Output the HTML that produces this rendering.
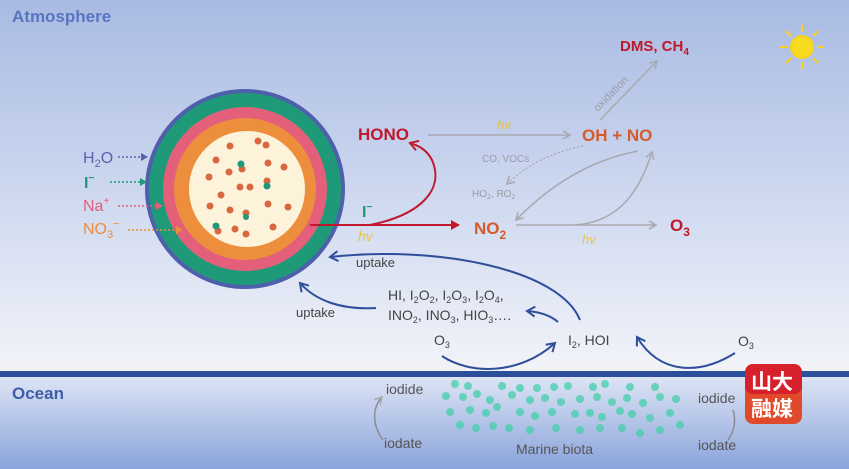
<!DOCTYPE html>
<html><head><meta charset="utf-8"><style>
html,body{margin:0;padding:0;width:849px;height:469px;overflow:hidden}
svg{display:block;font-family:"Liberation Sans",Arial,sans-serif}
</style></head><body>
<svg width="849" height="469" viewBox="0 0 849 469">
<defs>
<linearGradient id="atm" x1="0" y1="0" x2="0" y2="1">
<stop offset="0" stop-color="#a9bbe3"/><stop offset="0.5" stop-color="#ccd7ef"/><stop offset="1" stop-color="#f3f4f9"/></linearGradient>
<linearGradient id="oc" x1="0" y1="0" x2="0" y2="1">
<stop offset="0" stop-color="#dfe6f5"/><stop offset="1" stop-color="#8aa3db"/></linearGradient>
<marker id="ag" markerWidth="10" markerHeight="10" refX="8" refY="5" orient="auto" markerUnits="userSpaceOnUse"><path d="M1,1 L8,5 L1,9" fill="none" stroke="#a9aab0" stroke-width="1.6"/></marker>
<marker id="ab" markerWidth="12" markerHeight="12" refX="9" refY="6" orient="auto" markerUnits="userSpaceOnUse"><path d="M1,1 L9,6 L1,11" fill="none" stroke="#2f4f9a" stroke-width="2"/></marker>
<marker id="ar" markerWidth="10" markerHeight="10" refX="8" refY="5" orient="auto" markerUnits="userSpaceOnUse"><path d="M0,0 L9,5 L0,10 Z" fill="#c0182c"/></marker>
<marker id="ar2" markerWidth="12" markerHeight="12" refX="9" refY="6" orient="auto" markerUnits="userSpaceOnUse"><path d="M1,1 L9,6 L1,11" fill="none" stroke="#c0182c" stroke-width="2"/></marker>
</defs>
<rect width="849" height="374" fill="url(#atm)"/>
<rect y="374" width="849" height="95" fill="url(#oc)"/>
<rect y="371" width="849" height="6" fill="#2c4f9c"/>
<text x="12" y="22" font-size="17" font-weight="bold" fill="#5a74c0">Atmosphere</text>
<text x="12" y="399" font-size="17" font-weight="bold" fill="#3f5ea8">Ocean</text>
<!-- sun -->
<g transform="translate(802,47)" stroke="#f6d31c" stroke-width="2">
<circle r="11" fill="#f8da1e"/>
<path d="M0,-15V-22M0,15V22M-15,0H-22M15,0H22M11,-11L16,-16M-11,11L-16,16M11,11L16,16M-11,-11L-16,-16"/></g>
<!-- sphere -->
<circle cx="245" cy="189" r="100" fill="#4e5fab"/>
<circle cx="245" cy="189" r="96" fill="#1f9a78"/>
<circle cx="245" cy="189" r="82" fill="#e4607a"/>
<circle cx="245" cy="189" r="71" fill="#ec8e3c"/>
<circle cx="247" cy="189" r="58" fill="#fdf2da"/>
<g fill="#d9673f">
<circle cx="230" cy="146" r="3.5"/><circle cx="258" cy="141" r="3.5"/><circle cx="266" cy="145" r="3.5"/><circle cx="216" cy="160" r="3.5"/><circle cx="268" cy="163" r="3.5"/><circle cx="284" cy="167" r="3.5"/><circle cx="229" cy="172" r="3.5"/><circle cx="242" cy="169" r="3.5"/><circle cx="209" cy="177" r="3.5"/><circle cx="240" cy="187" r="3.5"/><circle cx="250" cy="187" r="3.5"/><circle cx="267" cy="181" r="3.5"/><circle cx="221" cy="195" r="3.5"/><circle cx="210" cy="206" r="3.5"/><circle cx="230" cy="210" r="3.5"/><circle cx="246" cy="213" r="3.5"/><circle cx="268" cy="204" r="3.5"/><circle cx="288" cy="207" r="3.5"/><circle cx="218" cy="231" r="3.5"/><circle cx="235" cy="229" r="3.5"/><circle cx="246" cy="234" r="3.5"/><circle cx="273" cy="227" r="3.5"/>
</g>
<g fill="#1f9a78"><circle cx="241" cy="164" r="3.5"/><circle cx="267" cy="186" r="3.5"/><circle cx="216" cy="226" r="3.5"/><circle cx="246" cy="217" r="3"/></g>
<!-- ion labels -->
<text x="83" y="163" font-size="16" fill="#5a62b0">H<tspan font-size="11" dy="4">2</tspan><tspan dy="-4">O</tspan></text>
<line x1="118" y1="157" x2="143" y2="157" stroke="#5a62b0" stroke-width="1.5" stroke-dasharray="2,2"/><path d="M141,153 L148,157 L141,161Z" fill="#5a62b0"/>
<text x="84" y="188" font-size="16" font-weight="bold" fill="#1f9a78">I<tspan font-size="10" dy="-7">−</tspan></text>
<line x1="110" y1="182" x2="142" y2="182" stroke="#1f9a78" stroke-width="1.5" stroke-dasharray="2,2"/><path d="M140,178 L147,182 L140,186Z" fill="#1f9a78"/>
<text x="83" y="211" font-size="16" fill="#e4607a">Na<tspan font-size="10" dy="-7">+</tspan></text>
<line x1="118" y1="206" x2="158" y2="206" stroke="#e4607a" stroke-width="1.5" stroke-dasharray="2,2"/><path d="M156,202 L163,206 L156,210Z" fill="#e4607a"/>
<text x="83" y="234" font-size="16" fill="#ec8e3c">NO<tspan font-size="11" dy="4">3</tspan><tspan font-size="11" dy="-11">−</tspan></text>
<line x1="128" y1="230" x2="178" y2="230" stroke="#ec8e3c" stroke-width="1.5" stroke-dasharray="2,2"/><path d="M176,226 L183,230 L176,234Z" fill="#ec8e3c"/>
<!-- red arrows -->
<line x1="310" y1="225" x2="459" y2="225" stroke="#c0182c" stroke-width="2" marker-end="url(#ar)"/>
<path d="M370,225 C420,215 445,190 432,160 C426,148 416,145 410,143" fill="none" stroke="#c0182c" stroke-width="2" marker-end="url(#ar2)"/>
<text x="362" y="217" font-size="16" font-weight="bold" fill="#1f9a78">I<tspan font-size="10" dy="-7">−</tspan></text>
<text x="358" y="241" font-size="14" font-style="italic" fill="#e8c440">hv</text>
<!-- species -->
<text x="358" y="140" font-size="17" font-weight="bold" fill="#c0182c">HONO</text>
<text x="582" y="141" font-size="17" font-weight="bold" fill="#d65a2a">OH + NO</text>
<text x="474" y="234" font-size="17" font-weight="bold" fill="#d65a2a">NO<tspan font-size="12" dy="5">2</tspan></text>
<text x="670" y="231" font-size="17" font-weight="bold" fill="#c0182c">O<tspan font-size="12" dy="5">3</tspan></text>
<text x="620" y="51" font-size="15" font-weight="bold" fill="#c0182c">DMS, CH<tspan font-size="10" dy="4">4</tspan></text>
<!-- grey arrows -->
<line x1="428" y1="135" x2="570" y2="135" stroke="#a9aab0" stroke-width="1.6" marker-end="url(#ag)"/>
<text x="497" y="129" font-size="13" font-style="italic" fill="#e8c440">hv</text>
<line x1="600" y1="120" x2="657" y2="61" stroke="#a9aab0" stroke-width="1.6" marker-end="url(#ag)"/>
<text transform="translate(598,112) rotate(-46)" font-size="11" fill="#9a9ca4">oxidation</text>
<path d="M583,146 C555,152 530,162 507,184" fill="none" stroke="#a9aab0" stroke-width="1.3" stroke-dasharray="2,2" marker-end="url(#ag)"/>
<text x="482" y="162" font-size="10" fill="#9a9ca4">CO, VOCs</text>
<text x="472" y="197" font-size="10" fill="#9a9ca4">HO<tspan font-size="7" dy="2">2</tspan><tspan dy="-2">, RO</tspan><tspan font-size="7" dy="2">2</tspan></text>
<path d="M638,151 C590,160 550,185 516,220" fill="none" stroke="#a9aab0" stroke-width="1.6" marker-end="url(#ag)"/>
<path d="M575,225 C620,222 640,190 652,152" fill="none" stroke="#a9aab0" stroke-width="1.6" marker-end="url(#ag)"/>
<line x1="516" y1="225" x2="656" y2="225" stroke="#a9aab0" stroke-width="1.6" marker-end="url(#ag)"/>
<text x="582" y="244" font-size="13" font-style="italic" fill="#e8c440">hv</text>
<!-- uptake arrows -->
<path d="M580,320 C560,270 440,245 330,257" fill="none" stroke="#2f4f9a" stroke-width="2" marker-end="url(#ab)"/>
<text x="356" y="267" font-size="13" fill="#444">uptake</text>
<path d="M376,308 C340,310 315,300 300,283" fill="none" stroke="#2f4f9a" stroke-width="2" marker-end="url(#ab)"/>
<text x="296" y="317" font-size="13" fill="#444">uptake</text>
<text x="388" y="300" font-size="14" fill="#444">HI, I<tspan font-size="9" dy="3">2</tspan><tspan dy="-3">O</tspan><tspan font-size="9" dy="3">2</tspan><tspan dy="-3">, I</tspan><tspan font-size="9" dy="3">2</tspan><tspan dy="-3">O</tspan><tspan font-size="9" dy="3">3</tspan><tspan dy="-3">, I</tspan><tspan font-size="9" dy="3">2</tspan><tspan dy="-3">O</tspan><tspan font-size="9" dy="3">4</tspan><tspan dy="-3">,</tspan></text>
<text x="388" y="320" font-size="14" fill="#444">INO<tspan font-size="9" dy="3">2</tspan><tspan dy="-3">, INO</tspan><tspan font-size="9" dy="3">3</tspan><tspan dy="-3">, HIO</tspan><tspan font-size="9" dy="3">3</tspan><tspan dy="-3">….</tspan></text>
<path d="M558,322 C550,315 540,312 527,311" fill="none" stroke="#2f4f9a" stroke-width="2" marker-end="url(#ab)"/>
<text x="568" y="345" font-size="14" fill="#444">I<tspan font-size="9" dy="3">2</tspan><tspan dy="-3">, HOI</tspan></text>
<text x="434" y="345" font-size="14" fill="#444">O<tspan font-size="9" dy="3">3</tspan></text>
<text x="738" y="346" font-size="14" fill="#444">O<tspan font-size="9" dy="3">3</tspan></text>
<path d="M442,356 C470,375 520,375 555,343" fill="none" stroke="#2f4f9a" stroke-width="2" marker-end="url(#ab)"/>
<path d="M735,353 C700,375 660,375 637,337" fill="none" stroke="#2f4f9a" stroke-width="2" marker-end="url(#ab)"/>
<!-- ocean -->
<text x="386" y="394" font-size="14" fill="#555">iodide</text>
<text x="384" y="448" font-size="14" fill="#555">iodate</text>
<path d="M383,440 C372,425 372,408 382,397" fill="none" stroke="#8a8c94" stroke-width="1.5" marker-end="url(#ag)"/>
<text x="698" y="403" font-size="14" fill="#555">iodide</text>
<text x="698" y="450" font-size="14" fill="#555">iodate</text>
<path d="M728,440 C735,430 736,420 733,410" fill="none" stroke="#8a8c94" stroke-width="1.5"/>
<text x="516" y="454" font-size="14" fill="#555">Marine biota</text>
<g fill="#43d0aa" opacity="0.75">
<circle cx="455" cy="384" r="4"/><circle cx="468" cy="386" r="4"/><circle cx="502" cy="386" r="4"/><circle cx="520" cy="388" r="4"/><circle cx="537" cy="388" r="4"/><circle cx="554" cy="387" r="4"/><circle cx="568" cy="386" r="4"/><circle cx="593" cy="387" r="4"/><circle cx="605" cy="384" r="4"/><circle cx="630" cy="387" r="4"/><circle cx="655" cy="387" r="4"/>
<circle cx="446" cy="396" r="4"/><circle cx="463" cy="397" r="4"/><circle cx="477" cy="394" r="4"/><circle cx="490" cy="400" r="4"/><circle cx="512" cy="395" r="4"/><circle cx="530" cy="400" r="4"/><circle cx="545" cy="398" r="4"/><circle cx="561" cy="402" r="4"/><circle cx="580" cy="399" r="4"/><circle cx="597" cy="397" r="4"/><circle cx="612" cy="402" r="4"/><circle cx="627" cy="398" r="4"/><circle cx="643" cy="403" r="4"/><circle cx="660" cy="397" r="4"/><circle cx="676" cy="399" r="4"/>
<circle cx="450" cy="412" r="4"/><circle cx="470" cy="410" r="4"/><circle cx="486" cy="413" r="4"/><circle cx="497" cy="407" r="4"/><circle cx="520" cy="412" r="4"/><circle cx="535" cy="416" r="4"/><circle cx="552" cy="412" r="4"/><circle cx="575" cy="414" r="4"/><circle cx="590" cy="413" r="4"/><circle cx="602" cy="417" r="4"/><circle cx="620" cy="411" r="4"/><circle cx="632" cy="414" r="4"/><circle cx="650" cy="418" r="4"/><circle cx="670" cy="413" r="4"/><circle cx="680" cy="425" r="4"/>
<circle cx="460" cy="425" r="4"/><circle cx="476" cy="428" r="4"/><circle cx="493" cy="426" r="4"/><circle cx="509" cy="428" r="4"/><circle cx="530" cy="430" r="4"/><circle cx="556" cy="428" r="4"/><circle cx="580" cy="430" r="4"/><circle cx="600" cy="428" r="4"/><circle cx="622" cy="428" r="4"/><circle cx="640" cy="433" r="4"/><circle cx="660" cy="430" r="4"/>
</g>
<!-- logo -->
<rect x="745" y="364" width="57" height="60" rx="8" fill="#e0492a"/>
<rect x="745" y="364" width="57" height="30" rx="8" fill="#d6202b"/>
<text x="751" y="389" font-size="21" font-weight="bold" fill="#fff" font-family="'Noto Sans CJK SC',sans-serif">山大</text>
<text x="751" y="416" font-size="21" font-weight="bold" fill="#fff" font-family="'Noto Sans CJK SC',sans-serif">融媒</text>
</svg>
</body></html>
